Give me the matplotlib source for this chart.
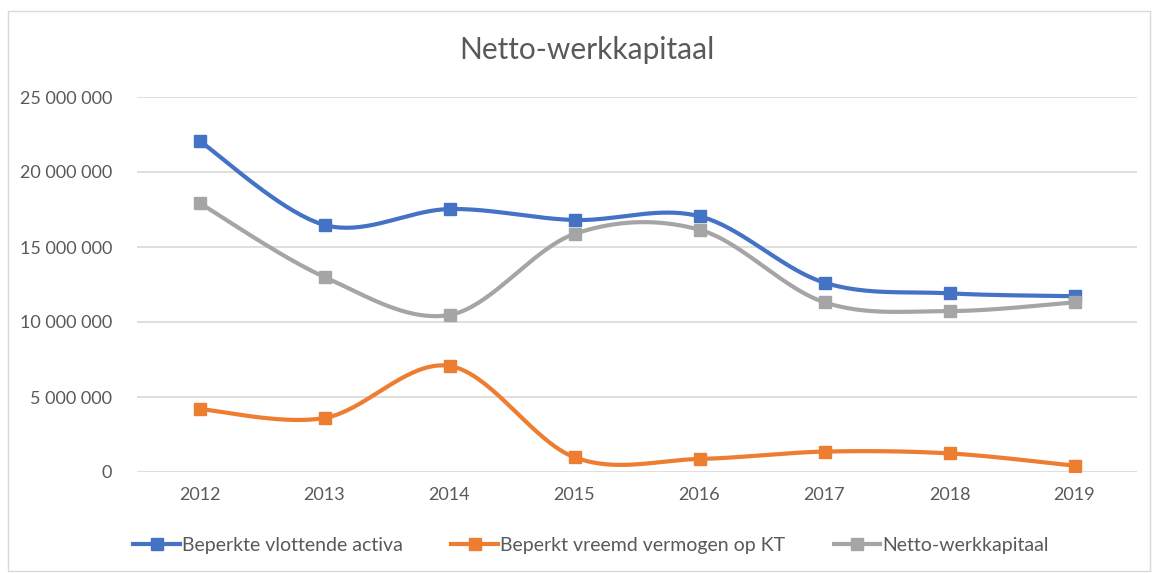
import numpy as np
import matplotlib
matplotlib.use("Agg")
import matplotlib.pyplot as plt
from matplotlib.ticker import FuncFormatter
from matplotlib.patches import Rectangle

# ── Data ──────────────────────────────────────────────────────────────────────

years = ["2012", "2013", "2014", "2015", "2016", "2017", "2018", "2019"]
vlottende_activa = [22_070_000, 16_470_000, 17_530_000, 16_800_000, 17_050_000, 12_620_000, 11_910_000, 11_720_000]
vreemd_vermogen = [4_200_000, 3_600_000, 7_070_000, 980_000, 870_000, 1_360_000, 1_240_000, 420_000]
netto_werkkapitaal = [17_930_000, 13_000_000, 10_470_000, 15_870_000, 16_150_000, 11_310_000, 10_730_000, 11_310_000]

series_names = ["Beperkte vlottende activa", "Beperkt vreemd vermogen op KT", "Netto-werkkapitaal"]
colors = ["#4472C4", "#ED7D31", "#A5A5A5"]

plt.rcParams["font.family"] = ["Lato", "DejaVu Sans"]
TXT = "#595959"


# ── Excel-like smoothing (cubic Bezier through the points) ───────────────────

def smooth(xs, ys, n=40):
    xs = np.asarray(xs, float)
    ys = np.asarray(ys, float)
    px = np.concatenate([[xs[0]], xs, [xs[-1]]])
    py = np.concatenate([[ys[0]], ys, [ys[-1]]])
    out_x, out_y = [], []
    t = np.linspace(0, 1, n)
    for i in range(1, len(px) - 2):
        p0 = np.array([px[i], py[i]])
        p3 = np.array([px[i + 1], py[i + 1]])
        c1 = p0 + (np.array([px[i + 1], py[i + 1]]) - np.array([px[i - 1], py[i - 1]])) / 6
        c2 = p3 - (np.array([px[i + 2], py[i + 2]]) - np.array([px[i], py[i]])) / 6
        b = ((1 - t) ** 3)[:, None] * p0 + (3 * (1 - t) ** 2 * t)[:, None] * c1 \
            + (3 * (1 - t) * t ** 2)[:, None] * c2 + (t ** 3)[:, None] * p3
        out_x.extend(b[:, 0])
        out_y.extend(b[:, 1])
    return out_x, out_y


# ── Plot ──────────────────────────────────────────────────────────────────────

fig = plt.figure(figsize=(11.52, 5.73), dpi=100)
ax = fig.add_axes([137 / 1152, 1 - 472 / 573, 1000 / 1152, 375 / 573])

fig.patches.append(Rectangle((8 / 1152, 2 / 573), 1142 / 1152, 560 / 573,
                             transform=fig.transFigure, fill=False,
                             edgecolor="#D9D9D9", linewidth=1))

x = np.arange(len(years))
for vals, name, c in zip([vlottende_activa, vreemd_vermogen, netto_werkkapitaal], series_names, colors):
    sx, sy = smooth(x, vals)
    ax.plot(sx, sy, color=c, linewidth=3, solid_capstyle="round", zorder=3)
    ax.plot(x, vals, linestyle="none", marker="s", markersize=8, color=c, zorder=4)
    ax.plot([], [], color=c, linewidth=3, marker="s", markersize=8, label=name)

ax.set_xlim(-0.5, len(years) - 0.5)
ax.set_ylim(0, 25_000_000)
ax.set_yticks(np.arange(0, 25_000_001, 5_000_000))
ax.yaxis.set_major_formatter(FuncFormatter(lambda v, p: f"{int(v):,}".replace(",", " ")))
ax.set_xticks(x)
ax.set_xticklabels(years)
ax.grid(axis="y", color="#D9D9D9", linewidth=1.2)
ax.set_axisbelow(True)
for s in ax.spines.values():
    s.set_visible(False)
ax.tick_params(length=0, colors=TXT, labelsize=13)
ax.tick_params(axis="y", pad=18)
ax.tick_params(axis="x", pad=11)

fig.text(587 / 1152, 1 - 50 / 573, "Netto-werkkapitaal", ha="center", va="center", fontsize=21.5, color=TXT)

fig.legend(loc="center", bbox_to_anchor=(591 / 1152, 1 - 545 / 573), ncol=3, frameon=False,
           fontsize=14, labelcolor=TXT, handlelength=2.4, handletextpad=0.1, columnspacing=2.5)

fig.savefig("out.png", dpi=100)
